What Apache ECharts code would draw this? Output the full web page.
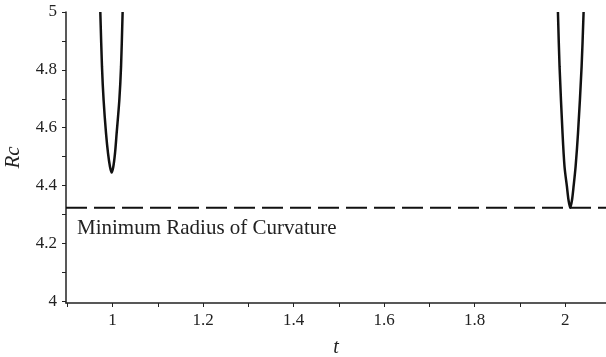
<!DOCTYPE html>
<html>
<head>
<meta charset="utf-8">
<script src="https://cdn.jsdelivr.net/npm/echarts@6/dist/echarts.min.js"></script>
<style>
  html, body { margin: 0; padding: 0; background: #fff; }
  #chart { width: 606px; height: 357px; }
</style>
</head>
<body>
<div id="chart"></div>
<script>
// Radius of curvature Rc(t) near its two local minima
const tLeft  = [0.9728, 0.9765, 0.9801, 0.9854, 0.9898, 0.9942, 0.9978, 1.0015, 1.0053, 1.0089, 1.0148, 1.0186, 1.0221];
const rcLeft = [5.000, 4.811, 4.695, 4.581, 4.512, 4.465, 4.445, 4.465, 4.512, 4.581, 4.695, 4.811, 5.000];

const tRight  = [1.9838, 1.9874, 1.9940, 1.9984, 2.0037, 2.0073, 2.0110, 2.0148, 2.0183, 2.0228, 2.0281, 2.0361, 2.0405];
const rcRight = [5.000, 4.811, 4.580, 4.465, 4.396, 4.349, 4.323, 4.349, 4.396, 4.465, 4.580, 4.811, 5.000];

// Minimum radius of curvature (horizontal reference line)
const minRc = 4.323;
const minLabel = 'Minimum Radius of Curvature';

// Axis ranges and tick positions
const tRange = [0.897, 2.09];
const rcRange = [3.994, 5];
const tTicks = [0.9, 1.0, 1.1, 1.2, 1.3, 1.4, 1.5, 1.6, 1.7, 1.8, 1.9, 2.0];
const tLabels = [1, 1.2, 1.4, 1.6, 1.8, 2];
const rcTicks = [4.0, 4.1, 4.2, 4.3, 4.4, 4.5, 4.6, 4.7, 4.8, 4.9, 5.0];
const rcLabels = [4, 4.2, 4.4, 4.6, 4.8, 5];

const zip = (xs, ys) => xs.map((x, i) => [x, ys[i]]);

const FONT = '"Liberation Serif", "Times New Roman", serif';
const AXIS_COLOR = '#222';

const chart = echarts.init(document.getElementById('chart'), null, { renderer: 'canvas' });

const curveStyle = {
  type: 'line',
  smooth: 0.3,
  showSymbol: false,
  clip: true,
  lineStyle: { color: '#111', width: 2.5 }
};

chart.setOption({
  animation: false,
  backgroundColor: '#fff',
  grid: { left: 66, right: 0, top: 12, bottom: 54, containLabel: false, outerBoundsMode: 'none' },
  xAxis: {
    type: 'value',
    min: tRange[0],
    max: tRange[1],
    name: 't',
    nameLocation: 'middle',
    nameGap: 35,
    nameTextStyle: { fontFamily: FONT, fontStyle: 'italic', fontSize: 20, color: AXIS_COLOR },
    axisLine: { show: true, onZero: false, lineStyle: { color: AXIS_COLOR, width: 1.5 } },
    axisTick: { show: true, inside: false, length: 4, customValues: tTicks, lineStyle: { color: AXIS_COLOR, width: 1 } },
    axisLabel: { show: true, margin: 9, customValues: tLabels, fontFamily: FONT, fontSize: 17, color: AXIS_COLOR,
                 formatter: v => String(Math.round(v * 10) / 10) },
    splitLine: { show: false }
  },
  yAxis: {
    type: 'value',
    min: rcRange[0],
    max: rcRange[1],
    name: 'Rc',
    nameLocation: 'middle',
    nameGap: 42,
    nameRotate: 90,
    nameTextStyle: { fontFamily: FONT, fontStyle: 'italic', fontSize: 21, color: AXIS_COLOR },
    axisLine: { show: true, onZero: false, lineStyle: { color: AXIS_COLOR, width: 1.5 } },
    axisTick: { show: true, inside: false, length: 4, customValues: rcTicks, lineStyle: { color: AXIS_COLOR, width: 1 } },
    axisLabel: { show: true, margin: 9, customValues: rcLabels, fontFamily: FONT, fontSize: 17, color: AXIS_COLOR,
                 formatter: v => String(Math.round(v * 10) / 10) },
    splitLine: { show: false }
  },
  series: [
    Object.assign({}, curveStyle, { data: zip(tLeft, rcLeft) }),
    Object.assign({}, curveStyle, { data: zip(tRight, rcRight) }),
    {
      type: 'line',
      data: [[tRange[0], minRc], [tRange[1], minRc]],
      showSymbol: false,
      clip: true,
      lineStyle: { color: '#111', width: 2, type: [21, 7] }
    }
  ],
  graphic: [
    {
      type: 'text',
      left: 77,
      top: 218,
      style: { text: minLabel, font: '21px ' + FONT, fill: AXIS_COLOR }
    }
  ]
});
</script>
</body>
</html>
